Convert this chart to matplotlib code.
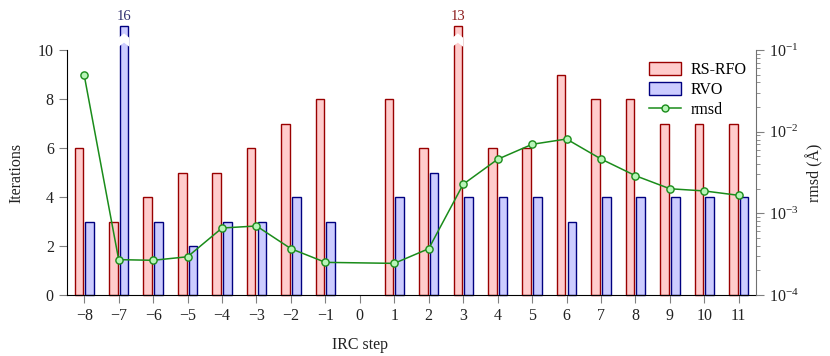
import numpy as np
import matplotlib
matplotlib.use("Agg")
import matplotlib.pyplot as plt
from matplotlib.patches import Patch, Polygon
from matplotlib.lines import Line2D

plt.rcParams['font.family'] = ['Liberation Serif', 'DejaVu Serif']
plt.rcParams['mathtext.fontset'] = 'stix'
plt.rcParams['font.size'] = 11.5

# ---- data ----
steps = [-8, -7, -6, -5, -4, -3, -2, -1, 1, 2, 3, 4, 5, 6, 7, 8, 9, 10, 11]
rsrfo = [6, 3, 4, 5, 5, 6, 7, 8, 8, 6, 13, 6, 6, 9, 8, 8, 7, 7, 7]
rvo = [3, 16, 3, 2, 3, 3, 4, 3, 4, 5, 4, 4, 4, 3, 4, 4, 4, 4, 4]
rmsd = [4.9e-2, 2.71e-4, 2.66e-4, 2.94e-4, 6.61e-4, 7.0e-4, 3.69e-4, 2.51e-4,
        2.44e-4, 3.69e-4, 2.27e-3, 4.59e-3, 7.0e-3, 8.13e-3, 4.63e-3, 2.89e-3,
        2.0e-3, 1.88e-3, 1.66e-3]
xticks = list(range(-8, 12))

CAP = 11.0
red_fill, red_edge = '#ffcccc', '#990000'
blue_fill, blue_edge = '#ccccff', '#000080'
green, green_face = '#1a8c1a', '#b8f5b8'

fig = plt.figure(figsize=(8.3, 3.56), dpi=100)
ax = fig.add_axes([67/830, 61/356, (756-67)/830, 245/356])

w = 0.25
off = 0.155
x = np.array(steps, dtype=float)

def draw_bars(xpos, vals, fc, ec, tc):
    shown = [min(v, CAP) for v in vals]
    bars = ax.bar(xpos, shown, width=w, color=fc, edgecolor=ec, linewidth=1.0,
                  clip_on=False, zorder=2)
    for xi, v in zip(xpos, vals):
        if v > CAP:
            xl, xr = xi - w/2 - 0.03, xi + w/2 + 0.03
            poly = Polygon([(xl, 10.5), (xi, 10.68), (xr, 10.5), (xr, 10.13),
                            (xi, 10.3), (xl, 10.13)], closed=True,
                           facecolor='white', edgecolor='none', clip_on=False, zorder=3)
            ax.add_patch(poly)
            ax.text(xi, CAP + 0.1, str(v), ha='center', va='bottom', color=tc,
                    fontsize=10.5, clip_on=False)
    return bars

draw_bars(x - off, rsrfo, red_fill, red_edge, '#8b1a1a')
draw_bars(x + off, rvo, blue_fill, blue_edge, '#303070')

ax.set_xlim(-8.5, 11.5)
ax.set_ylim(0, 10)
ax.set_xticks(xticks)
ax.set_xticklabels([str(t).replace('-', '\u2212') for t in xticks])
ax.set_yticks([0, 2, 4, 6, 8, 10])
ax.spines['top'].set_visible(False)
ax.spines['right'].set_visible(False)
ax.spines['left'].set_color('black')
ax.spines['bottom'].set_color('black')
ax.tick_params(axis='both', direction='out', color='#808080', length=6, width=0.8,
               labelcolor='#222222')
ax.set_ylabel('Iterations', color='#222222')
ax.yaxis.set_label_coords(-0.062, 0.5)
fig.text(360/830, 1 - 345/356, 'IRC step', ha='center', va='center', color='#222222',
         fontsize=11.5)

ax2 = ax.twinx()
ax2.set_yscale('log')
ax2.set_ylim(1e-4, 1e-1)
ax2.plot(x, rmsd, color=green, linewidth=1.1, marker='o', markersize=5.2,
         markerfacecolor=green_face, markeredgecolor=green, markeredgewidth=1.0,
         zorder=5, clip_on=False)
for s in ['top', 'left', 'bottom']:
    ax2.spines[s].set_visible(False)
ax2.spines['right'].set_color('#707070')
ax2.tick_params(axis='y', which='major', direction='out', color='#808080', length=6,
                width=0.8, labelcolor='#222222')
ax2.tick_params(axis='y', which='minor', direction='out', color='#808080', length=3,
                width=0.6)
ax2.set_ylabel('rmsd (Å)', color='#222222')
ax2.yaxis.set_label_coords(1.072, 0.5)

handles = [Patch(facecolor=red_fill, edgecolor=red_edge, linewidth=1.0),
           Patch(facecolor=blue_fill, edgecolor=blue_edge, linewidth=1.0),
           Line2D([], [], color=green, linewidth=1.1, marker='o', markersize=5,
                  markerfacecolor=green_face, markeredgecolor=green)]
ax2.legend(handles, ['RS-RFO', 'RVO', 'rmsd'], loc='upper right',
           bbox_to_anchor=(1.0, 0.99), frameon=False, handlelength=2.0,
           handleheight=0.8, labelspacing=0.25, handletextpad=0.6, fontsize=11.5,
           borderaxespad=0.2)

fig.savefig('out.png', dpi=100)
